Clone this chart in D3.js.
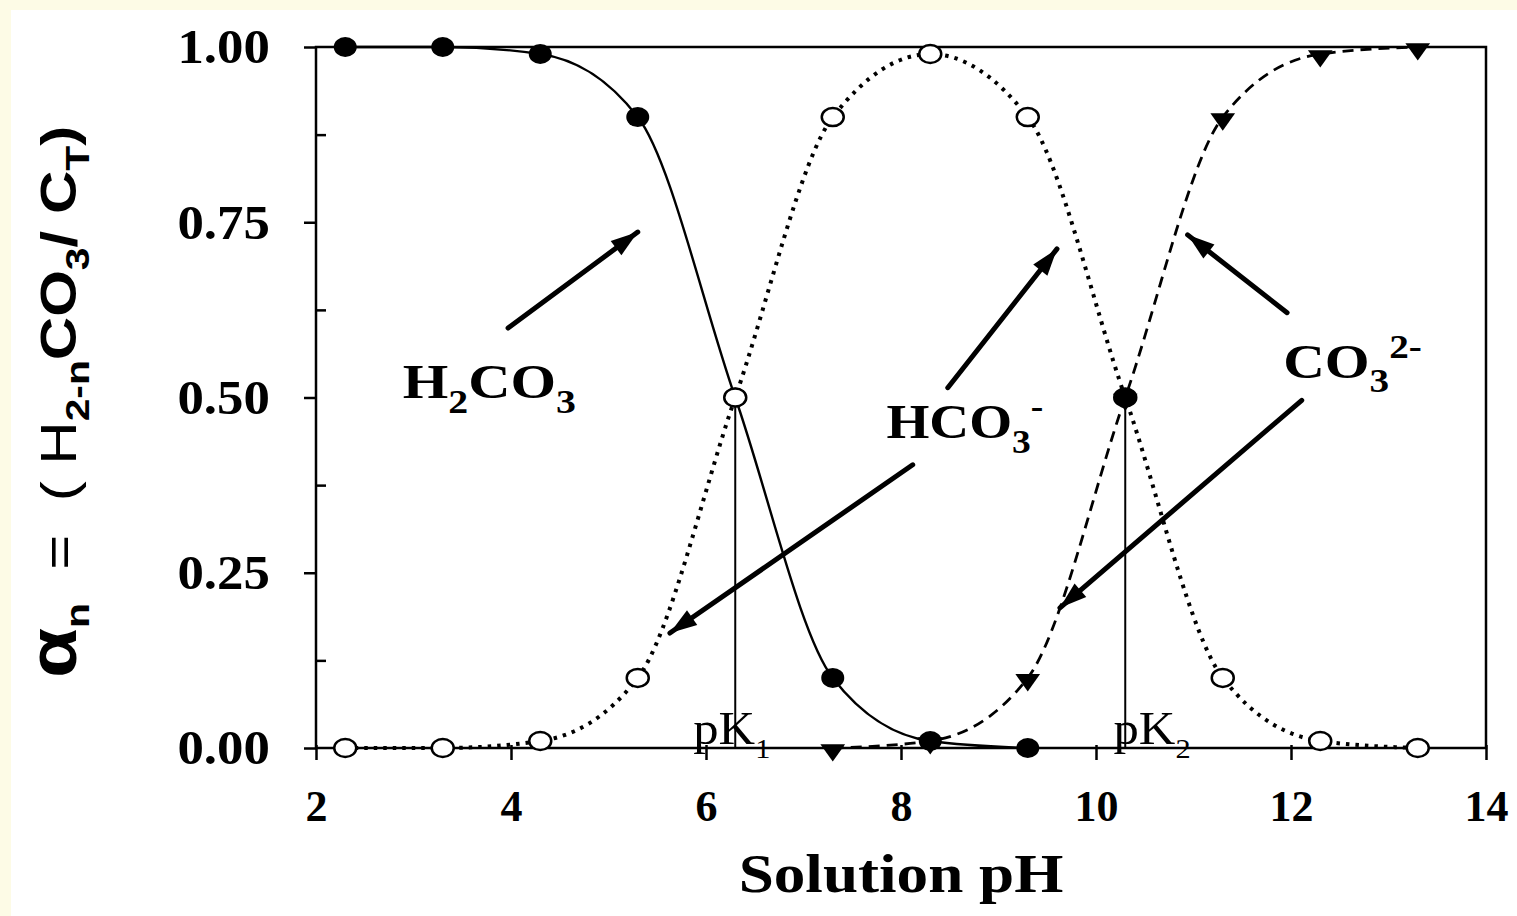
<!DOCTYPE html>
<html>
<head>
<meta charset="utf-8">
<script src="https://cdn.jsdelivr.net/npm/d3@7"></script>
<style>
  body { margin: 0; background: #fdfbe6; }
  svg { display: block; }
</style>
</head>
<body>
<svg id="chart" width="1517" height="916"></svg>
<script>
var svg = d3.select("#chart");
var width = +svg.attr("width"),
    height = +svg.attr("height");

// values
var pH = [2.3, 3.3, 4.3, 5.3, 6.3, 7.3, 8.3, 9.3, 10.3, 11.3, 12.3, 13.3];
var h2co3 = [1.00, 1.00, 0.99, 0.90, 0.50, 0.10, 0.01, 0.00, null, null, null, null];
var hco3 = [0.00, 0.00, 0.01, 0.10, 0.50, 0.90, 0.99, 0.90, 0.50, 0.10, 0.01, 0.00];
var co3 = [null, null, null, null, null, 0.00, 0.01, 0.10, 0.50, 0.90, 0.99, 1.00];
var hco3Filled = [0, 0, 0, 0, 0, 0, 0, 0, 1, 0, 0, 0];

var xTicks = [2, 4, 6, 8, 10, 12, 14];
var yTicks = [0, 0.25, 0.5, 0.75, 1];
var yMinor = [0.125, 0.375, 0.625, 0.875];
var pKs = [{sub: "1", value: 6.3, labelAt: 5.87}, {sub: "2", value: 10.3, labelAt: 10.18}];

// arrows, [pH, alpha] of tail and tip
var arrows = [
  [[3.97, 0.599], [5.30, 0.736]],
  [[8.48, 0.514], [9.60, 0.712]],
  [[8.12, 0.404], [5.63, 0.164]],
  [[11.96, 0.621], [10.94, 0.732]],
  [[12.11, 0.496], [9.63, 0.200]]
];

var serif = "'Liberation Serif', 'Times New Roman', serif";
var sans = "'Liberation Sans', Arial, sans-serif";

var x = d3.scaleLinear().domain([2, 14]).range([316, 1486]);
var y = d3.scaleLinear().domain([0, 1]).range([748, 47]);

// white page on the cream border
svg.append("rect")
  .attr("x", 11).attr("y", 10)
  .attr("width", width - 11).attr("height", height - 10)
  .attr("fill", "#fff");

// frame
svg.append("rect")
  .attr("x", x(2)).attr("y", y(1))
  .attr("width", x(14) - x(2)).attr("height", y(0) - y(1))
  .attr("fill", "none")
  .attr("stroke", "#000")
  .attr("stroke-width", 2.5);

// axes
var yAxis = svg.append("g")
  .attr("transform", "translate(" + x(2) + ",0)")
  .call(d3.axisLeft(y).tickValues(yTicks).tickSize(12).tickSizeOuter(0)
    .tickPadding(30).tickFormat(d3.format(".2f")));

var yMinorAxis = svg.append("g")
  .attr("transform", "translate(" + x(2) + ",0)")
  .call(d3.axisRight(y).tickValues(yMinor).tickSize(10).tickSizeOuter(0)
    .tickFormat(""));

var xAxis = svg.append("g")
  .attr("transform", "translate(0," + y(0) + ")")
  .call(d3.axisBottom(x).tickValues(xTicks).tickSize(12).tickSizeOuter(0)
    .tickPadding(30));

[yAxis, yMinorAxis, xAxis].forEach(function(a) {
  a.select(".domain").remove();
  a.selectAll("line").attr("stroke", "#000").attr("stroke-width", 2.5);
});

yAxis.selectAll("text")
  .style("font-family", serif)
  .style("font-weight", "bold")
  .style("font-size", "48px")
  .attr("fill", "#000")
  .attr("dy", "0.33em")
  .attr("transform", "scale(1.1,1)");

xAxis.selectAll("text")
  .style("font-family", serif)
  .style("font-weight", "bold")
  .style("font-size", "44px")
  .attr("fill", "#000")
  .attr("dy", "0.71em");

xAxis.selectAll(".tick line").attr("y1", -3);

// pK lines
svg.selectAll(".pkline")
  .data(pKs)
  .enter()
  .append("line")
    .attr("x1", d => x(d.value)).attr("x2", d => x(d.value))
    .attr("y1", y(0.5)).attr("y2", y(0))
    .attr("stroke", "#000")
    .attr("stroke-width", 2);

// curves
function series(vals) {
  return pH.map((p, i) => ({x: p, v: vals[i], i: i}));
}
var line = d3.line()
  .defined(d => d.v !== null)
  .x(d => x(d.x))
  .y(d => y(d.v))
  .curve(d3.curveMonotoneX);

svg.append("path")
  .datum(series(hco3))
  .attr("d", line)
  .attr("fill", "none")
  .attr("stroke", "#000")
  .attr("stroke-width", 4)
  .attr("stroke-dasharray", "3.5,6");

svg.append("path")
  .datum(series(co3))
  .attr("d", line)
  .attr("fill", "none")
  .attr("stroke", "#000")
  .attr("stroke-width", 2.8)
  .attr("stroke-dasharray", "11,7");

svg.append("path")
  .datum(series(h2co3))
  .attr("d", line)
  .attr("fill", "none")
  .attr("stroke", "#000")
  .attr("stroke-width", 2.4);

// markers
var tri = d3.symbol().type(d3.symbolTriangle).size(240);
svg.selectAll(".tri")
  .data(series(co3).filter(d => d.v !== null))
  .enter()
  .append("path")
    .attr("d", tri)
    .attr("transform", d => "translate(" + x(d.x) + "," + (y(d.v) + 2) + ") rotate(180) scale(1.05,0.85)")
    .attr("fill", "#000");

svg.selectAll(".dot1")
  .data(series(h2co3).filter(d => d.v !== null))
  .enter()
  .append("ellipse")
    .attr("cx", d => x(d.x))
    .attr("cy", d => y(d.v))
    .attr("rx", 11.5).attr("ry", 10)
    .attr("fill", "#000");

svg.selectAll(".dot2")
  .data(series(hco3))
  .enter()
  .append("ellipse")
    .attr("cx", d => x(d.x))
    .attr("cy", d => y(d.v))
    .attr("rx", 11).attr("ry", 9)
    .attr("fill", d => hco3Filled[d.i] ? "#000" : "#fff")
    .attr("stroke", "#000")
    .attr("stroke-width", 2.5);

// arrows
svg.append("defs").append("marker")
    .attr("id", "head")
    .attr("viewBox", "0 -10 30 20")
    .attr("refX", 28).attr("refY", 0)
    .attr("markerUnits", "userSpaceOnUse")
    .attr("markerWidth", 30).attr("markerHeight", 20)
    .attr("orient", "auto")
  .append("path")
    .attr("d", "M1,-9 L28,0 L1,9 Z")
    .attr("fill", "#000");

svg.selectAll(".arrow")
  .data(arrows)
  .enter()
  .append("line")
    .attr("x1", d => x(d[0][0])).attr("y1", d => y(d[0][1]))
    .attr("x2", d => x(d[1][0])).attr("y2", d => y(d[1][1]))
    .attr("stroke", "#000")
    .attr("stroke-width", 5)
    .attr("stroke-linecap", "round")
    .attr("marker-end", "url(#head)");

// formula text helper
function formula(px, py, parts, size, sx, family, weight, subScale) {
  var t = svg.append("text")
    .attr("transform", "translate(" + px + "," + py + ") scale(" + sx + ",1)")
    .style("font-family", family)
    .style("font-weight", weight)
    .style("font-size", size + "px")
    .attr("fill", "#000");
  var shift = 0;
  parts.forEach(function(p) {
    var target = p.pos === "sub" ? size * 0.3 : p.pos === "sup" ? -size * 0.42 : 0;
    t.append("tspan")
      .attr("dy", target - shift)
      .style("font-size", p.pos ? (size * (subScale || 0.68)) + "px" : null)
      .text(p.t);
    shift = target;
  });
  return t;
}

formula(x(2.89), y(0.499), [{t: "H"}, {t: "2", pos: "sub"}, {t: "CO"}, {t: "3", pos: "sub"}],
  48, 1.22, serif, "bold");
formula(x(7.85), y(0.442), [{t: "HCO"}, {t: "3", pos: "sub"}, {t: "-", pos: "sup"}],
  48, 1.15, serif, "bold");
formula(x(11.92), y(0.528), [{t: "CO"}, {t: "3", pos: "sub"}, {t: "2-", pos: "sup"}],
  48, 1.2, serif, "bold");

pKs.forEach(function(k) {
  formula(x(k.labelAt), y(0) - 4, [{t: "pK"}, {t: k.sub, pos: "sub"}],
    46, 1.1, serif, "normal", 0.6);
});

// axis titles
svg.append("text")
  .attr("transform", "translate(" + ((x(2) + x(14)) / 2) + ",892) scale(1.17,1)")
  .attr("text-anchor", "middle")
  .style("font-family", serif)
  .style("font-weight", "bold")
  .style("font-size", "54px")
  .attr("fill", "#000")
  .text("Solution pH");

var ylab = svg.append("text")
  .attr("transform", "translate(76,402) rotate(-90) scale(1.2,1)")
  .attr("text-anchor", "middle")
  .style("font-family", sans)
  .style("font-weight", "bold")
  .style("font-size", "50px")
  .attr("fill", "#000");
var yparts = [
  {t: "\u03b1", size: 68}, {t: "n", pos: "sub"}, {t: "  =  ( H"}, {t: "2-n", pos: "sub"},
  {t: "CO"}, {t: "3", pos: "sub"}, {t: "/ C"}, {t: "T", pos: "sub"}, {t: ")"}
];
var yshift = 0;
yparts.forEach(function(p) {
  var target = p.pos === "sub" ? 13 : 0;
  ylab.append("tspan")
    .attr("dy", target - yshift)
    .style("font-size", p.size ? p.size + "px" : p.pos ? "34px" : null)
    .style("font-weight", p.t.indexOf("=") >= 0 ? "normal" : null)
    .style("white-space", "pre")
    .text(p.t);
  yshift = target;
});
</script>
</body>
</html>
